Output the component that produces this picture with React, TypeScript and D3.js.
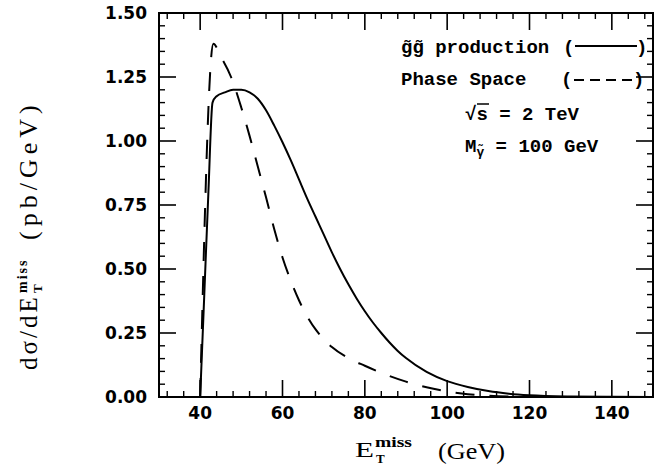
import React from "react";
import * as d3 from "d3";

const W = 657;
const H = 471;

// gg~ production (solid)
const prodX = [40, 41, 42, 43, 44, 46, 48, 50, 52, 54, 56, 58, 60, 62, 64, 66, 68, 70, 72, 74, 76, 78, 80, 82, 84, 86, 88, 90, 95, 100, 105, 110, 115, 120, 130, 140, 150];
const prodY = [0, 0.4, 0.8, 1.15, 1.175, 1.19, 1.2, 1.2, 1.19, 1.165, 1.12, 1.06, 0.995, 0.925, 0.85, 0.775, 0.705, 0.635, 0.565, 0.5, 0.44, 0.385, 0.335, 0.29, 0.25, 0.213, 0.18, 0.152, 0.098, 0.062, 0.039, 0.023, 0.013, 0.007, 0.002, 0.0005, 0];

// Phase space (dashed)
const psX = [40, 43.2, 45, 47.5, 50, 52, 54, 56, 58, 60, 62, 64, 66, 68, 70, 72, 76, 80, 85, 90, 95, 100, 105, 110, 115, 120, 125];
const psY = [0, 1.38, 1.33, 1.25, 1.13, 1.02, 0.9, 0.78, 0.655, 0.545, 0.455, 0.378, 0.315, 0.265, 0.226, 0.195, 0.152, 0.122, 0.088, 0.06, 0.038, 0.022, 0.011, 0.005, 0.002, 0.001, 0];

const xTickLabels = [40, 60, 80, 100, 120, 140];
const yTickLabels = [0, 0.25, 0.5, 0.75, 1.0, 1.25, 1.5];

export default function App() {
  const L = 159, R = 653, T = 13, B = 397;
  const x = d3.scaleLinear().domain([30, 150]).range([L, R]);
  const y = d3.scaleLinear().domain([0, 1.5]).range([B, T]);

  const line = d3
    .line<[number, number]>()
    .x((d) => x(d[0]))
    .y((d) => y(d[1]))
    .curve(d3.curveMonotoneX);

  const prod = line(prodX.map((v, i) => [v, prodY[i]] as [number, number])) || "";
  const ps = line(psX.map((v, i) => [v, psY[i]] as [number, number])) || "";

  const xMinor = d3.range(32, 150, 4).filter((v) => v % 20 !== 0);
  const yMinor = d3.range(1, 30).filter((i) => i % 5 !== 0).map((i) => i * 0.05);
  const MAJ = 17;
  const MIN = 6;

  const tickFont = "DejaVu Sans, sans-serif";
  const legFont = "Liberation Mono, DejaVu Sans Mono, monospace";
  const serif = "Liberation Serif, DejaVu Serif, serif";

  return (
    <svg width={W} height={H} style={{ position: "absolute", left: 0, top: 0, background: "#fff" }}>
      <rect x={0} y={0} width={W} height={H} fill="#fff" />
      {/* frame */}
      <rect x={L} y={T} width={R - L} height={B - T} fill="none" stroke="#000" strokeWidth={2} />
      {/* x ticks */}
      {xTickLabels.map((v) => (
        <g key={"xM" + v}>
          <line x1={x(v)} x2={x(v)} y1={B} y2={B - MAJ} stroke="#000" strokeWidth={1.6} />
          <line x1={x(v)} x2={x(v)} y1={T} y2={T + MAJ} stroke="#000" strokeWidth={1.6} />
          <text x={x(v)} y={419} textAnchor="middle" fontFamily={tickFont} fontWeight="bold" fontSize={17}>
            {v}
          </text>
        </g>
      ))}
      {xMinor.map((v) => (
        <g key={"xm" + v}>
          <line x1={x(v)} x2={x(v)} y1={B} y2={B - MIN} stroke="#000" strokeWidth={1.4} />
          <line x1={x(v)} x2={x(v)} y1={T} y2={T + MIN} stroke="#000" strokeWidth={1.4} />
        </g>
      ))}
      {/* y ticks */}
      {yTickLabels.map((v) => (
        <g key={"yM" + v}>
          <line x1={L} x2={L + MAJ} y1={y(v)} y2={y(v)} stroke="#000" strokeWidth={1.6} />
          <line x1={R} x2={R - MAJ} y1={y(v)} y2={y(v)} stroke="#000" strokeWidth={1.6} />
          <text x={147} y={y(v) + 6} textAnchor="end" fontFamily={tickFont} fontWeight="bold" fontSize={17}>
            {v.toFixed(2)}
          </text>
        </g>
      ))}
      {yMinor.map((v) => (
        <g key={"ym" + v.toFixed(2)}>
          <line x1={L} x2={L + MIN} y1={y(v)} y2={y(v)} stroke="#000" strokeWidth={1.4} />
          <line x1={R} x2={R - MIN} y1={y(v)} y2={y(v)} stroke="#000" strokeWidth={1.4} />
        </g>
      ))}

      {/* curves */}
      <path d={ps} fill="none" stroke="#000" strokeWidth={2} strokeDasharray="19,15" />
      <path d={prod} fill="none" stroke="#000" strokeWidth={2} />

      {/* legend */}
      <g fontFamily={legFont} fontWeight="bold" fontSize={19} fill="#000">
        <text x={401} y={53}>{"g\u0303g\u0303 production"}</text>
        <text x={563} y={53}>(</text>
        <line x1={575} x2={637} y1={46} y2={46} stroke="#000" strokeWidth={2} />
        <text x={636} y={53}>)</text>

        <text x={401} y={85}>Phase Space</text>
        <text x={561} y={85}>(</text>
        <line x1={574} x2={636} y1={80} y2={80} stroke="#000" strokeWidth={2} strokeDasharray="10,6" />
        <text x={633} y={85}>)</text>

        <text x={465} y={120}>{"\u221As = 2 TeV"}</text>
        <line x1={477} x2={489} y1={104} y2={104} stroke="#000" strokeWidth={1.5} />

        <text x={465} y={152}>
          M
          <tspan fontSize={13} dy={4}>{"\u03B3\u0303"}</tspan>
          <tspan dy={-4}>{" = 100 GeV"}</tspan>
        </text>
      </g>

      {/* x title */}
      <g fontFamily={serif} fill="#000">
        <text x={355} y={457} fontSize={22} textLength={19} lengthAdjust="spacingAndGlyphs">E</text>
        <text x={375} y={447} fontSize={14} fontWeight="bold" textLength={37} lengthAdjust="spacingAndGlyphs">miss</text>
        <text x={376} y={463} fontSize={13} fontWeight="bold">T</text>
        <text x={438} y={459} fontSize={23} textLength={67} lengthAdjust="spacingAndGlyphs">(GeV)</text>
      </g>

      {/* y title (rotated) */}
      <g fontFamily={serif} fill="#000">
        <text transform="translate(37,370) rotate(-90)" fontSize={25} letterSpacing={3}>{"d\u03C3/dE"}</text>
        <text transform="translate(27,293) rotate(-90)" fontSize={14} fontWeight="bold" letterSpacing={2}>miss</text>
        <text transform="translate(42,293) rotate(-90)" fontSize={13} fontWeight="bold">T</text>
        <text transform="translate(37,240) rotate(-90)" fontSize={26} letterSpacing={5}>(pb/GeV)</text>
      </g>
    </svg>
  );
}
